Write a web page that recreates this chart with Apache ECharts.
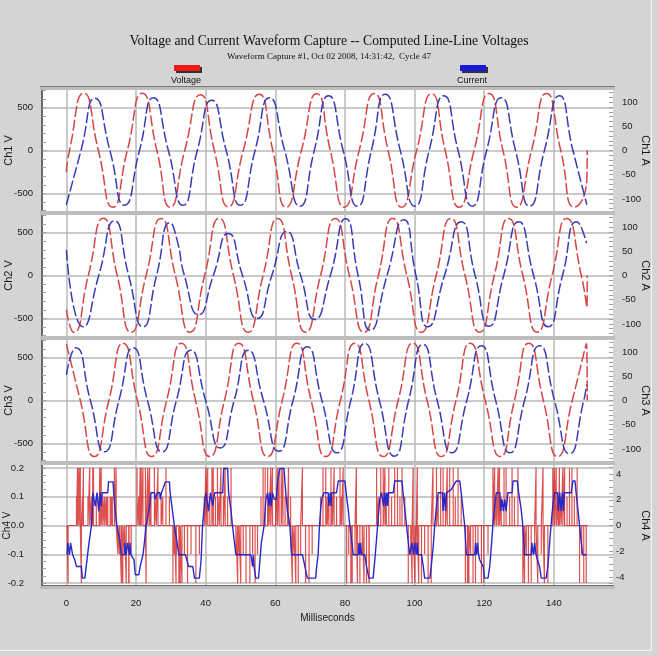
<!DOCTYPE html>
<html>
<head>
<meta charset="utf-8">
<title>Voltage and Current Waveform Capture</title>
<script src="https://cdn.jsdelivr.net/npm/echarts@6/dist/echarts.min.js"></script>
<style>
  html, body { margin: 0; padding: 0; background: #d4d4d4; }
  #chart { width: 658px; height: 656px; }
</style>
</head>
<body>
<div id="chart"></div>
<script>
// ---- data: [milliseconds, value] ----
const ch1V = [[0,-253],[0.9,0],[5.0,668],[9.2,0],[13.3,-661],[17.5,0],[21.8,668],[26.0,0],[29.8,-661],[34.0,0],[38.5,650],[42.5,0],[46.5,-655],[50.8,0],[55.4,655],[59.3,0],[63.1,-660],[67.5,0],[71.9,662],[75.8,0],[79.8,-660],[84.1,0],[88.4,665],[92.4,0],[96.3,-660],[100.6,0],[104.9,662],[108.8,0],[112.8,-660],[117.1,0],[121.4,665],[125.4,0],[129.3,-660],[133.6,0],[137.9,665],[142.0,0],[145.9,-660],[149.5,-320],[149.6,0]];
const ch1A = [[0,-112],[4.2,0],[8.2,108],[12.5,0],[16.7,-113],[21.0,0],[25.0,109],[29.3,0],[33.5,-113],[37.6,0],[41.7,104],[45.9,0],[50.0,-113],[54.2,0],[58.3,109],[62.7,0],[67.1,-115],[71.2,0],[75.3,113],[79.5,0],[83.6,-115],[87.6,0],[91.6,116],[95.9,0],[100.1,-115],[104.2,0],[108.4,113],[112.5,0],[116.6,-115],[120.7,0],[124.9,109],[129.0,0],[133.1,-115],[137.3,0],[141.6,113],[145.5,0],[149.5,-112]];

const ch2V = [[0,-400],[2.1,-661],[6.3,0],[10.6,668],[14.6,0],[18.6,-661],[22.9,0],[27.2,665],[31.3,0],[35.5,-661],[39.7,0],[43.9,665],[48.0,0],[52.2,-661],[56.5,0],[60.7,665],[64.7,0],[68.7,-661],[73.0,0],[77.2,665],[81.3,0],[85.5,-661],[89.6,0],[93.7,665],[97.8,0],[101.9,-661],[106.2,0],[110.4,665],[114.5,0],[118.7,-661],[122.9,0],[127.0,665],[131.1,0],[135.2,-661],[139.5,0],[143.7,665],[147.9,0],[149.5,-372],[149.6,0]];
const ch2A = [[0,53],[4.8,-106],[9.3,0],[13.8,113],[17.9,0],[22.0,-106],[25.9,0],[29.8,109],[31.8,73],[33.9,0],[38.0,-81],[42.2,0],[46.5,87],[50.6,0],[54.8,-89],[59.0,0],[63.3,91],[67.3,0],[71.3,-91],[75.8,0],[80.2,117],[83.8,0],[87.3,-113],[92.1,0],[96.9,115],[100.4,0],[103.8,-106],[108.6,0],[113.4,111],[117.4,0],[121.4,-105],[125.6,0],[129.9,111],[134.2,0],[138.4,-106],[142.5,0],[146.6,111],[149.4,67]];

const ch3V = [[0,660],[4.0,0],[8.0,-654],[12.2,0],[16.3,668],[20.4,0],[24.5,-654],[28.8,0],[33.0,668],[37.1,0],[41.2,-654],[45.4,0],[49.5,668],[53.7,0],[57.8,-654],[62.0,0],[66.2,668],[70.3,0],[74.5,-654],[78.7,0],[82.8,668],[86.9,0],[91.0,-654],[95.3,0],[99.5,668],[103.6,0],[107.7,-654],[111.9,0],[116.0,668],[120.3,0],[124.6,-654],[128.7,0],[132.8,668],[137.0,0],[141.1,-654],[145.3,0],[149.4,665],[149.6,0]];
const ch3A = [[0,53],[2.7,109],[6.9,0],[11.0,-106],[15.1,0],[19.2,109],[23.3,0],[27.5,-106],[31.6,0],[35.7,104],[40.0,0],[44.2,-98],[48.2,0],[52.2,104],[56.6,0],[61.0,-105],[65.1,0],[69.2,111],[73.4,0],[77.7,-108],[81.7,0],[85.7,118],[89.9,0],[94.2,-115],[98.3,0],[102.4,116],[106.5,0],[110.7,-108],[115.0,0],[119.2,113],[123.3,0],[127.4,-108],[131.6,0],[135.9,113],[140.2,0],[144.5,-110],[148.6,0],[149.4,33]];

// Ch4 V: spikes off a zero baseline, [ms, volts]
const ch4VSpikes = [[0.5,-0.2],
  [2.9,0.1],[3.2,0.2],[3.6,0.2],[4.0,0.2],[4.3,-0.2],[4.6,0.1],[4.9,0.2],[6.2,0.1],[6.7,0.2],[7.2,0.1],[7.5,0.1],[7.6,0.2],[7.8,0.2],
  [8.6,0.1],[9.4,0.1],[9.6,0.2],[10.0,0.2],[10.5,0.1],[11.0,0.1],[11.5,0.1],[11.9,0.1],[12.6,0.1],[12.7,0.1],[12.9,0.1],[13.2,0.1],[13.8,0.2],[14.3,0.2],
  [14.8,-0.1],[15.3,-0.1],[15.8,-0.2],[16.2,-0.2],[16.7,-0.1],[17.2,-0.2],[17.9,-0.2],[18.0,-0.2],[18.6,-0.1],
  [20.3,0.2],[20.8,0.1],[20.9,0.1],[21.2,0.2],[21.5,0.2],[22.0,0.2],[22.7,0.2],[22.9,-0.2],[23.4,0.2],[23.9,0.2],[24.3,0.1],[25.3,0.2],[25.8,0.1],[26.3,0.2],[27.2,0.1],[27.7,0.1],[28.6,0.2],[29.6,0.1],
  [30.6,-0.2],[31.0,-0.1],[31.1,-0.1],[31.5,-0.2],[31.6,-0.1],[32.3,-0.2],[32.6,-0.2],[32.7,-0.2],[33.2,-0.2],[33.9,-0.1],[34.8,-0.2],[35.8,-0.1],[37.2,-0.2],[38.2,-0.1],
  [39.6,0.1],[40.1,0.2],[40.6,0.2],[41.2,0.1],[41.8,0.2],[42.2,0.2],[42.8,0.1],[43.4,0.2],[43.9,0.1],[44.4,0.2],[45.1,0.1],[45.6,0.2],[46.3,0.1],[47.3,0.2],
  [48.7,-0.1],[49.2,-0.2],[49.6,-0.1],[50.1,-0.2],[50.8,-0.1],[51.6,-0.2],[52.7,-0.2],[53.5,-0.1],[54.2,-0.2],[54.9,-0.1],
  [55.9,0.1],[56.5,0.2],[57.1,0.2],[57.8,0.2],[58.2,0.1],[58.7,0.2],[59.2,0.2],[60.1,0.1],[60.6,0.2],[61.1,0.2],[61.7,0.2],[62.2,0.2],[62.8,0.1],[63.5,0.1],[63.8,0.2],[64.4,0.1],
  [64.9,-0.2],[65.4,-0.1],[65.9,-0.2],[66.6,-0.2],[67.3,-0.1],[67.8,0.2],[68.7,-0.2],[69.7,-0.2],[70.6,-0.1],
  [73.0,0.1],[73.7,0.2],[74.5,0.2],[74.9,0.1],[75.4,0.1],[76.0,0.2],[76.4,0.1],[76.9,0.2],[77.6,0.1],[78.6,0.2],[79.0,0.1],[79.5,0.2],
  [80.5,-0.2],[81.1,-0.1],[81.7,-0.2],[81.8,-0.2],[82.1,-0.2],[82.9,-0.1],[83.3,0.2],[83.6,-0.2],[84.3,-0.2],[85.0,-0.1],[85.5,-0.2],[86.2,-0.2],[86.9,-0.2],[87.0,-0.2],
  [89.1,0.2],[89.6,0.1],[90.3,0.2],[91.0,0.2],[91.5,0.2],[91.9,0.1],[92.6,0.2],[93.4,0.1],[94.3,0.2],[95.1,0.2],[95.8,0.1],[96.4,0.2],[97.2,0.1],
  [98.2,-0.2],[98.9,-0.1],[99.3,-0.2],[99.6,0.2],[100.1,-0.2],[100.5,-0.1],[100.8,0.2],[101.2,-0.2],[102.0,-0.2],[102.9,-0.1],[103.9,-0.2],[104.8,-0.2],[105.3,0.2],
  [106.3,0.2],[106.8,0.1],[107.5,0.2],[108.2,0.2],[108.9,0.1],[109.4,0.2],[110.1,0.2],[111.1,0.2],[111.7,0.1],[112.5,0.2],[113.4,0.1],
  [114.6,-0.2],[115.2,-0.2],[115.3,-0.2],[115.5,-0.2],[115.6,-0.2],[116.1,-0.1],[116.8,-0.2],[117.5,-0.2],[118.2,-0.1],[119.2,-0.2],[119.9,-0.2],[121.1,-0.1],
  [122.5,0.2],[123.0,0.2],[123.5,0.1],[124.0,0.2],[124.4,0.2],[124.9,0.1],[125.7,0.2],[126.3,0.2],[127.3,0.1],[128.0,0.2],[128.7,0.1],[129.7,0.2],
  [131.1,-0.2],[131.6,-0.2],[132.1,-0.1],[132.7,-0.2],[133.5,-0.2],[134.5,-0.1],[134.9,0.2],[135.4,-0.2],[136.4,-0.1],[136.9,0.2],[137.3,-0.2],[138.3,-0.2],
  [139.7,0.2],[140.2,0.2],[140.7,0.2],[141.2,0.1],[141.3,0.1],[141.4,0.1],[141.6,0.2],[142.1,0.1],[142.6,0.2],[143.1,0.2],[143.8,0.1],[144.5,0.2],[145.2,0.2],[145.9,0.1],[146.7,0.2],
  [147.4,-0.2],[148.0,-0.1],[148.6,-0.2],[149.3,-0.2]];
const ch4VStart = 0.2, ch4VEnd = 149.8;

// Ch4 A: stepped current, [ms, amps]
const ch4A = [[0.2,-2.27],[0.4,-1.35],[0.8,-1.35],[0.9,-2.27],[1.2,-1.35],[1.6,-1.35],[1.8,-2.27],[2.2,-2.27],[2.4,-2.66],[2.9,-3.18],[4.3,-3.18],[4.6,-4.09],[5.3,-4.09],[5.7,-3.18],[6.5,-1.35],[7.2,0],[7.4,1.12],[7.6,2.55],[8.1,2.55],[8.3,1.51],[8.6,1.51],[8.8,2.55],[9.1,2.55],[9.3,1.12],[9.6,1.12],[9.7,2.55],[10.0,1.51],[10.3,2.55],[11.9,2.55],[12.1,3.39],[13.4,3.39],[13.6,2.55],[13.9,1.51],[14.5,0],[15.3,-1.09],[15.8,-2.27],[16.7,-2.27],[16.8,-1.35],[17.1,-1.35],[17.2,-2.27],[17.5,-2.27],[17.6,-1.35],[18.0,-1.35],[18.1,-2.27],[18.3,-1.35],[18.5,-2.27],[18.9,-2.27],[19.4,-2.66],[19.8,-3.83],[20.8,-3.83],[21.2,-3.18],[22.0,-2.27],[22.4,-1.35],[22.9,0],[23.9,1.51],[24.3,2.55],[25.3,2.55],[25.5,2.03],[25.9,2.03],[26.1,2.55],[26.8,2.55],[27.0,2.03],[27.3,2.55],[27.7,2.81],[28.4,3.39],[29.6,3.39],[29.8,2.55],[30.3,1.51],[31.0,0],[31.5,-0.8],[32.3,-2.27],[34.2,-2.27],[34.6,-2.66],[35.1,-3.18],[36.3,-3.18],[36.8,-4.09],[38.2,-4.09],[38.7,-2.66],[39.1,0],[39.8,2.03],[40.1,2.55],[40.6,2.55],[40.8,1.12],[41.2,1.12],[41.4,2.55],[41.8,2.55],[42.0,1.51],[42.4,1.51],[42.6,2.55],[44.9,2.55],[45.2,4.43],[46.3,4.43],[46.6,2.55],[47.3,1.12],[47.7,0],[48.7,-2.27],[53.0,-2.27],[53.5,-3.18],[53.7,-2.27],[53.9,-3.18],[54.4,-4.09],[55.2,-4.09],[55.6,-2.66],[56.0,-1.35],[56.8,0],[57.3,2.03],[57.8,2.55],[58.2,1.51],[58.5,2.55],[58.8,1.51],[59.2,2.55],[59.7,2.03],[60.3,2.03],[60.7,3.46],[61.3,4.43],[62.5,4.43],[63.0,2.55],[63.5,1.12],[64.2,0],[64.7,-2.27],[67.8,-2.27],[68.5,-3.18],[69.2,-4.09],[71.6,-4.09],[71.9,-3.18],[72.3,-2.27],[72.7,0],[73.1,1.51],[73.5,2.21],[74.0,2.55],[75.2,2.55],[75.4,1.51],[75.8,2.55],[76.0,1.51],[76.2,2.55],[77.6,2.55],[78.1,3.46],[80.0,3.46],[80.5,2.21],[81.0,1.12],[81.4,0],[81.9,-1.09],[82.4,-2.27],[83.8,-2.27],[84.0,-1.35],[84.3,-2.27],[84.5,-1.35],[84.8,-2.27],[85.7,-2.27],[86.2,-3.18],[86.9,-4.09],[88.1,-4.09],[88.6,-2.66],[89.4,0],[90.0,2.03],[90.5,2.55],[90.9,2.55],[91.1,1.51],[91.4,2.55],[91.7,1.51],[92.0,2.55],[92.3,1.51],[92.5,2.55],[93.9,2.55],[94.3,3.46],[96.4,3.46],[96.7,2.55],[97.2,1.3],[97.7,0],[98.6,-2.27],[99.1,-2.27],[99.3,-1.35],[99.7,-2.27],[100.1,-1.35],[100.5,-2.27],[100.8,-1.35],[101.0,-2.27],[102.0,-2.27],[102.5,-3.18],[102.9,-4.09],[104.4,-4.09],[104.8,-3.18],[105.3,-1.82],[105.8,0],[106.3,1.51],[106.8,2.55],[108.0,2.55],[108.2,1.12],[108.6,2.55],[108.9,1.12],[109.2,2.55],[110.6,2.81],[112.0,3.46],[113.0,3.46],[113.4,2.55],[113.9,1.3],[114.4,0],[114.9,-2.27],[117.3,-2.27],[117.5,-1.35],[117.8,-2.27],[118.1,-1.35],[118.4,-2.27],[118.7,-2.66],[119.7,-3.18],[120.1,-4.09],[121.1,-4.09],[121.6,-3.18],[122.0,-1.82],[122.5,0],[123.0,1.51],[123.5,2.55],[124.5,2.55],[124.7,1.12],[125.1,2.03],[125.5,1.12],[125.9,2.03],[126.3,1.12],[126.8,2.55],[128.0,2.55],[128.3,3.46],[129.5,3.46],[129.9,2.55],[130.6,1.3],[131.1,0],[131.6,-2.27],[133.5,-2.27],[133.7,-1.35],[134.1,-2.27],[134.5,-1.35],[134.9,-2.27],[135.4,-2.27],[135.9,-3.18],[136.4,-4.09],[137.8,-4.09],[138.3,-3.18],[138.8,-1.35],[139.2,0],[139.7,1.51],[140.2,2.55],[141.1,2.55],[141.3,1.12],[141.7,2.55],[142.1,1.12],[142.5,2.55],[142.8,1.12],[143.0,2.55],[145.0,2.55],[145.5,3.46],[146.1,3.46],[146.4,2.55],[146.9,1.3],[147.4,0],[147.8,-1.09],[148.3,-2.27],[149.3,-2.27]];

// tick labels
const msTicks = [0, 20, 40, 60, 80, 100, 120, 140];
const voltTicks = [-500, 0, 500];
const ampTicks = [-100, -50, 0, 50, 100];
const ch4VoltTicks = [-0.2, -0.1, 0, 0.1, 0.2];
const ch4AmpTicks = [-4, -2, 0, 2, 4];

const RED = "#d84444";
const BLUE = "#3a3ab8";
const FONT = "Liberation Sans";

// spike list -> polyline hugging zero
function spikeLine(spikes, t0, t1) {
  const out = [[t0, 0]];
  spikes.forEach(function (s) {
    out.push([s[0], 0], [s[0], s[1]], [s[0], 0]);
  });
  out.push([t1, 0]);
  return out;
}

function range(a, b, step) {
  const r = [];
  for (let v = a; v <= b + 1e-9; v += step) r.push(Math.round(v * 1000) / 1000);
  return r;
}

const tops = [90, 215, 340, 465];
const grid = tops.map(function (t) {
  return { left: 42, top: t, width: 571, height: 121, show: true, backgroundColor: "#fff", borderWidth: 0, containLabel: false, outerBoundsMode: "none" };
});

const labelStyle = { color: "#1a1a1a", fontSize: 9.5, fontFamily: FONT };

const xAxis = [];
tops.forEach(function (t, i) {
  const last = i === 3;
  xAxis.push({
    type: "value", gridIndex: i, min: -7, max: 157,
    axisLine: { show: last, onZero: false, lineStyle: { color: "#6a6a6a", width: 2 } },
    axisTick: { show: false, customValues: msTicks },
    axisLabel: Object.assign({ show: last, customValues: msTicks, margin: 12 }, labelStyle),
    splitLine: { show: true, lineStyle: { color: "#b8b8b8", width: 1.5 } },
    name: last ? "Milliseconds" : "", nameLocation: "middle", nameGap: 27, nameMoveOverlap: false,
    nameTextStyle: { color: "#1a1a1a", fontSize: 10, fontFamily: FONT }
  });
});

const yAxis = [];
const volt = [705, 705, 705, 0.21];
const amp = [125, 125, 125, 4.7];
tops.forEach(function (t, i) {
  const last = i === 3;
  yAxis.push({
    type: "value", gridIndex: i, position: "left", min: -volt[i], max: volt[i],
    axisLine: { show: true, onZero: false, lineStyle: { color: "#6a6a6a", width: 2 } },
    axisTick: { show: false, customValues: last ? ch4VoltTicks : voltTicks },
    axisLabel: Object.assign({
      customValues: last ? ch4VoltTicks : voltTicks, margin: last ? 18 : 9,
      formatter: last ? function (v) { return v.toFixed(1); } : function (v) { return String(v); }
    }, labelStyle),
    splitLine: { show: true, lineStyle: { color: "#b8b8b8", width: 1.5 } },
    name: "Ch" + (i + 1) + " V", nameLocation: "middle", nameGap: last ? 30 : 28, nameRotate: 90, nameMoveOverlap: false,
    nameTextStyle: { color: "#1a1a1a", fontSize: last ? 10 : 11, fontFamily: FONT }
  });
  yAxis.push({
    type: "value", gridIndex: i, position: "right", min: -amp[i], max: amp[i],
    axisLine: { show: false, onZero: false },
    axisTick: { show: true, inside: true, length: 4, lineStyle: { color: "#a0a0a0" },
      customValues: last ? range(-4.5, 4.5, 0.5) : range(-120, 120, 10) },
    axisLabel: Object.assign({ customValues: last ? ch4AmpTicks : ampTicks, margin: last ? 3 : 9 }, labelStyle),
    splitLine: { show: false },
    name: "Ch" + (i + 1) + " A", nameLocation: "middle", nameGap: 27, nameRotate: -90, nameMoveOverlap: false,
    nameTextStyle: { color: "#1a1a1a", fontSize: 11, fontFamily: FONT }
  });
});
// left-side minor ticks (extra, label-less axes)
tops.forEach(function (t, i) {
  const last = i === 3;
  yAxis.push({
    type: "value", gridIndex: i, position: "left", offset: 0, min: -volt[i], max: volt[i],
    axisLine: { show: false, onZero: false }, axisLabel: { show: false }, splitLine: { show: false },
    axisTick: { show: true, inside: true, length: 4, lineStyle: { color: "#a0a0a0" },
      customValues: last ? range(-0.2, 0.2, 0.025) : range(-700, 700, 100) }
  });
});

function wave(data, xi, yi, color) {
  return {
    type: "line", data: data, xAxisIndex: xi, yAxisIndex: yi,
    showSymbol: false, smooth: 0.6,
    lineStyle: { color: color, width: 1.5, type: [11, 3] }
  };
}

const series = [
  wave(ch1V, 0, 0, RED), wave(ch1A, 0, 1, BLUE),
  wave(ch2V, 1, 2, RED), wave(ch2A, 1, 3, BLUE),
  wave(ch3V, 2, 4, RED), wave(ch3A, 2, 5, BLUE),
  {
    type: "line", data: spikeLine(ch4VSpikes, ch4VStart, ch4VEnd), xAxisIndex: 3, yAxisIndex: 6,
    showSymbol: false, lineStyle: { color: "#d42424", width: 1.2, opacity: 0.8 }
  },
  {
    type: "line", data: ch4A, xAxisIndex: 3, yAxisIndex: 7,
    showSymbol: false, lineStyle: { color: "#2828c8", width: 1.4 }
  }
];

const seps = [86, 211, 336, 461, 586].map(function (y, i) {
  return { type: "rect", shape: { x: 40, y: y, width: 575, height: i === 4 ? 3 : 4 }, style: { fill: "#bdbdbd" }, z: 100 };
});

const chart = echarts.init(document.getElementById("chart"));
chart.setOption({
  animation: false,
  backgroundColor: "#d4d4d4",
  title: {
    text: "Voltage and Current Waveform Capture -- Computed Line-Line Voltages",
    subtext: "Waveform Capture #1, Oct 02 2008, 14:31:42,  Cycle 47",
    left: "center", top: 29, itemGap: 4,
    textStyle: { fontFamily: "Liberation Serif", fontSize: 13.7, fontWeight: "normal", color: "#111" },
    subtextStyle: { fontFamily: "Liberation Serif", fontSize: 9, color: "#111" }
  },
  grid: grid,
  xAxis: xAxis,
  yAxis: yAxis,
  series: series,
  graphic: seps.concat([
    { type: "line", shape: { x1: 40, y1: 86.5, x2: 615, y2: 86.5 }, style: { stroke: "#7a7a7a", lineWidth: 1 }, z: 101 },
    { type: "line", shape: { x1: 651.5, y1: 0, x2: 651.5, y2: 651 }, style: { stroke: "#f4f4f4", lineWidth: 1 }, z: 101 },
    { type: "line", shape: { x1: 0, y1: 650.5, x2: 652, y2: 650.5 }, style: { stroke: "#f4f4f4", lineWidth: 1 }, z: 101 },
    { type: "rect", shape: { x: 176, y: 67, width: 26, height: 6 }, style: { fill: "#333" }, z: 100 },
    { type: "rect", shape: { x: 174, y: 65, width: 26, height: 6 }, style: { fill: "#f01818" }, z: 101 },
    { type: "text", x: 186, y: 81, style: { text: "Voltage", fontSize: 9, fontFamily: FONT, fill: "#111", align: "center", verticalAlign: "middle" }, z: 101 },
    { type: "rect", shape: { x: 462, y: 67, width: 26, height: 6 }, style: { fill: "#333" }, z: 100 },
    { type: "rect", shape: { x: 460, y: 65, width: 26, height: 6 }, style: { fill: "#1818e0" }, z: 101 },
    { type: "text", x: 472, y: 81, style: { text: "Current", fontSize: 9, fontFamily: FONT, fill: "#111", align: "center", verticalAlign: "middle" }, z: 101 }
  ])
});
window.addEventListener("resize", function () {
  chart.resize();
});
</script>
</body>
</html>
